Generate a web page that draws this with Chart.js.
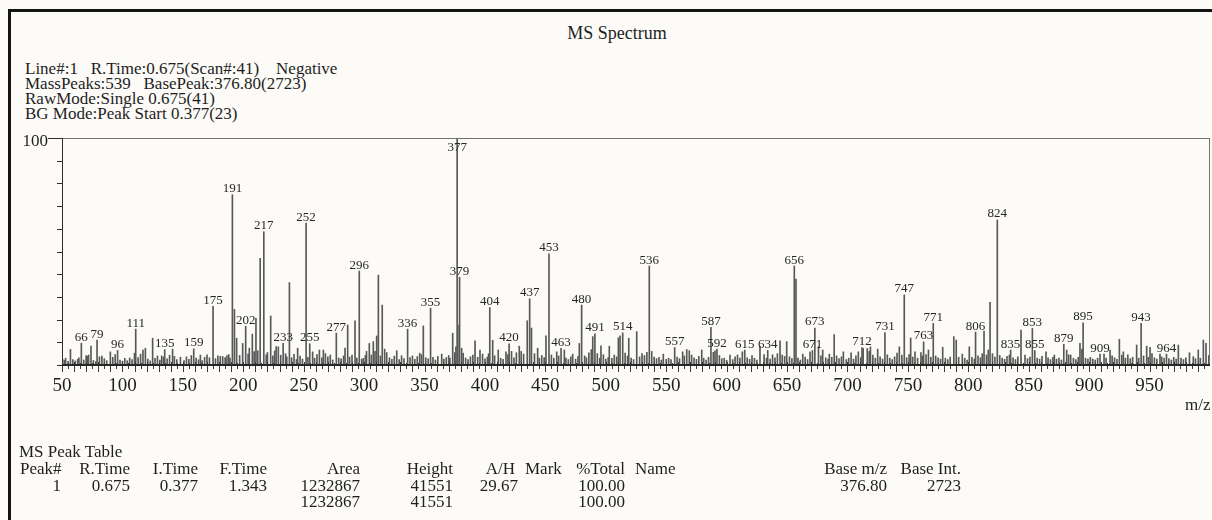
<!DOCTYPE html>
<html>
<head>
<meta charset="utf-8">
<title>MS Spectrum</title>
<script src="https://cdn.jsdelivr.net/npm/chart.js@4.4.1/dist/chart.umd.min.js"></script>
<style>
  html, body { margin: 0; padding: 0; background: #fcfbf8; }
  #page { position: relative; width: 1212px; height: 520px; overflow: hidden; background: #fcfbf8;
          font-family: 'Liberation Serif', 'DejaVu Serif', serif; color: #1e1e1e; }
  #frame { position: absolute; left: 8px; top: 9px; width: 1400px; height: 700px;
           border-left: 3px solid #141414; border-top: 3px solid #141414; }
  #spec { position: absolute; left: 0; top: 0; }
  .txt { position: absolute; white-space: pre; font-size: 17px; line-height: 17px; }
  #title { position: absolute; left: 0; width: 1234px; top: 23px; text-align: center; font-size: 18px; line-height: 20px; }
  #info { position: absolute; left: 25px; top: 61px; white-space: pre; font-size: 17px; line-height: 15.1px; }
</style>
</head>
<body>
<div id="page">
  <div id="frame"></div>
  <div id="title">MS Spectrum</div>
  <div id="info">Line#:1   R.Time:0.675(Scan#:41)    Negative
MassPeaks:539   BasePeak:376.80(2723)
RawMode:Single 0.675(41)
BG Mode:Peak Start 0.377(23)</div>
  <canvas id="spec" width="1212" height="520"></canvas>

  <div class="txt" style="left:19px; top:443px;">MS Peak Table</div>
  <div class="txt" style="left:20px; top:460px;">Peak#</div>
  <div class="txt" style="right:1082px; top:460px;">R.Time</div>
  <div class="txt" style="right:1014px; top:460px;">I.Time</div>
  <div class="txt" style="right:945px; top:460px;">F.Time</div>
  <div class="txt" style="right:852px; top:460px;">Area</div>
  <div class="txt" style="right:759px; top:460px;">Height</div>
  <div class="txt" style="right:697px; top:460px;">A/H</div>
  <div class="txt" style="left:525px; top:460px;">Mark</div>
  <div class="txt" style="right:587px; top:460px;">%Total</div>
  <div class="txt" style="left:635px; top:460px;">Name</div>
  <div class="txt" style="right:325px; top:460px;">Base m/z</div>
  <div class="txt" style="right:251px; top:460px;">Base Int.</div>

  <div class="txt" style="right:1151px; top:477px;">1</div>
  <div class="txt" style="right:1082px; top:477px;">0.675</div>
  <div class="txt" style="right:1014px; top:477px;">0.377</div>
  <div class="txt" style="right:945px; top:477px;">1.343</div>
  <div class="txt" style="right:852px; top:477px;">1232867</div>
  <div class="txt" style="right:759px; top:477px;">41551</div>
  <div class="txt" style="right:694px; top:477px;">29.67</div>
  <div class="txt" style="right:587px; top:477px;">100.00</div>
  <div class="txt" style="right:325px; top:477px;">376.80</div>
  <div class="txt" style="right:251px; top:477px;">2723</div>

  <div class="txt" style="right:852px; top:493px;">1232867</div>
  <div class="txt" style="right:759px; top:493px;">41551</div>
  <div class="txt" style="right:587px; top:493px;">100.00</div>
</div>

<script>
// labelled peaks: m/z and relative intensity (%)
const LABEL_MZ = [66, 79, 96, 111, 135, 159, 175, 191, 202, 217,
                  233, 252, 255, 277, 296, 336, 355, 377, 379, 404,
                  420, 437, 453, 463, 480, 491, 514, 536, 557, 587,
                  592, 615, 634, 656, 671, 673, 712, 731, 747, 763,
                  771, 806, 824, 835, 853, 855, 879, 895, 909, 943, 964];
const LABEL_INT = [9.6, 11.0, 6.4, 15.8, 6.8, 7.1, 25.8, 75.0, 17.1, 58.7,
                   9.6, 62.5, 9.4, 14.0, 41.4, 15.8, 25.0, 100, 38.6, 25.3,
                   9.3, 29.2, 49.0, 7.3, 26.4, 13.7, 14.2, 43.6, 7.7, 16.6,
                   7.0, 6.6, 6.4, 43.6, 6.4, 16.3, 7.7, 14.3, 30.9, 10.2,
                   18.3, 14.5, 63.9, 6.6, 16.1, 6.4, 9.1, 18.6, 4.8, 18.4, 4.8];

// unlabelled peaks [m/z, %]
const LOW_PEAKS = [
  [50.5,2.5],[52,2.1],[53,3.0],[55,1.6],[57,6.9],[59,2.4],[61,1.8],[63,2.5],[64,3.2],[68,2.2],
  [70,4.1],[71,3.8],[72,4.4],[74,8.3],[76,2.0],[78,1.5],[81,3.6],[83,3.9],[85,2.8],[87,1.9],
  [90,5.8],[92,3.4],[94,4.6],[98,2.2],[100,1.7],[102,2.9],[104,1.9],[106,3.1],[108,2.4],[110,5.2],
  [113,3.3],[115,4.8],[117,6.6],[119,7.4],[121,2.6],[123,1.8],[125,11.8],[127,2.9],[129,4.0],[131,2.2],
  [132.5,4.0],[134,3.5],[137,2.7],[139,4.3],[141.5,7.0],[143,3.8],[145,2.4],[148,3.4],[151,2.0],[153,3.6],
  [155,2.5],[157,4.2],[161,3.0],[163,2.3],[164.5,4.4],[166,1.9],[168,3.4],[170,4.5],[172,3.2],[177,2.8],
  [179,4.0],[181,3.8],[183,3.7],[185,3.3],[186.5,4.2],[188,4.6],[189,3.0],[192.7,24.5],[194.5,11.8],[197,4.2],
  [199.5,9.5],[204,4.8],[205,7.4],[207.5,13.6],[209,5.9],[210.5,20.6],[212,6.3],[214,47.0],[219,4.5],[220,5.5],
  [222.7,21.6],[224.5,4.0],[226,6.2],[227.2,8.1],[229,8.0],[231,4.3],[235,5.0],[236,3.6],[238.2,36.3],[240,3.2],
  [242,4.7],[244,2.4],[245,7.4],[247,3.9],[249,2.6],[253.5,3.4],[257.4,5.8],[259,3.0],[261,4.6],[263,6.6],
  [265,3.2],[266.3,6.6],[268,5.0],[270,3.6],[272,4.4],[274,2.2],[279,3.1],[281,2.7],[283,4.0],[284.2,7.4],
  [286.4,17.6],[288,3.5],[290,4.4],[292.5,19.5],[294,3.1],[298,2.6],[299.3,2.9],[301,4.2],[302,6.0],[304.3,9.5],
  [306,4.4],[307.6,10.3],[309,6.0],[310.4,12.8],[311.8,39.6],[313.5,4.0],[315,26.4],[317,7.0],[318.7,5.5],[321,3.2],
  [323,2.5],[325,3.9],[327,6.3],[329,2.4],[331,4.1],[333,2.8],[338,3.3],[340,4.0],[342,2.5],[344,3.7],
  [346,5.2],[347.5,4.6],[349,17.2]
];
const MID_PEAKS = [
  [351,3.2],[353,2.7],[357,3.4],[359,2.2],[361,3.8],[364.2,4.8],[366,2.6],[368,3.3],[370,4.2],[371,3.0],
  [373.3,14.0],[375,5.5],[376,8.0],[378.6,17.6],[380.7,7.4],[382,5.2],[384,3.1],[386,2.4],[388,3.6],[390,4.4],
  [391.8,10.7],[394,3.4],[395.9,6.6],[398,4.8],[400,2.7],[402,3.5],[403,5.0],[406.4,10.9],[408,4.1],[411,6.6],
  [413,3.0],[415,2.5],[417.4,5.8],[419,4.6],[422,6.0],[424,3.2],[426,5.4],[428.4,8.3],[430,6.0],[432,4.8],
  [435,19.5],[438.5,16.3],[441,5.0],[443.6,7.4],[445,3.0],[447,4.2],[449,3.3],[450.5,12.8],[455,4.4],[457,3.0],
  [459.4,5.8],[461,4.0],[465.7,6.6],[467,3.1],[469,2.4],[471,3.6],[472.6,4.8],[475,2.6],[477,3.8],[478.1,9.5],
  [482.5,4.0],[484,3.2],[486,5.4],[488,6.8],[489.2,12.5],[493,5.0],[495,3.0],[496,8.4],[498,4.5],[500,2.6],
  [502,3.3],[502.9,8.3],[505,2.9],[507,4.4],[509,3.6],[510.4,12.0],[511.8,12.8],[516,5.2],[518,4.0],[519,11.8],
  [521,3.0],[523,2.4],[525.6,14.7],[528,3.6],[530,5.0],[532,4.2],[534,5.6],[538,6.0],[540,3.5],[542,2.8],
  [544,3.4],[546,2.2],[547.6,4.8],[550,2.5],[552,3.0],[554,2.4],[559,3.5],[561,2.8],[563.6,5.8],[565,4.0],
  [567,6.8],[569.1,6.3],[571,4.4],[573,3.2],[575,2.5],[577,3.8],[579.4,6.6],[581,3.0],[583,2.2],[585,3.4],
  [589,5.6],[590.4,6.2],[594,4.2],[596,2.8],[598,3.0],[600,2.1],[602.8,4.4],[605,2.4],[607,3.6],[609,4.4],
  [611,3.0],[613,5.8],[617,3.2],[619,2.5],[621,4.1],[623,3.0],[625,2.2],[627.6,8.3],[631,4.6],[633,3.0],
  [636,2.6],[638,4.5],[640,3.2],[642,5.0],[644.2,10.7],[646,4.4],[648,3.8],[649.7,10.3]
];
const HIGH_PEAKS = [
  [652,3.6],[654,2.8],[657.4,37.8],[659,3.0],[661,2.2],[663,4.8],[665,3.5],[667,2.4],[669,5.8],[676,8.0],
  [678,4.0],[679.5,6.6],[682,3.2],[684,2.6],[685,4.8],[687,3.4],[689,13.4],[691,4.0],[693,2.8],[695,3.6],
  [696.6,5.8],[699,2.4],[701,3.0],[703,5.4],[705,2.6],[707,4.0],[709,5.8],[711,3.2],[713,7.3],[716.4,7.3],
  [718,6.0],[719,8.0],[721,4.4],[723,3.0],[725,7.0],[727,3.6],[729,2.6],[733,4.5],[735,3.0],[737,2.4],
  [739,3.6],[741,5.2],[742.9,8.0],[745,4.4],[749,3.2],[751,4.6],[752.3,11.9],[754,3.5],[755.9,5.8],[758,3.0],
  [760.8,5.5],[762,4.0],[765,4.6],[767,6.6],[769,3.4],[773,4.0],[775,3.2],[777,2.6],[778.8,7.8],[781,3.0],
  [783,2.4],[785,3.5],[788,12.5],[790,11.0],[792,3.4],[795,4.8],[797,3.0],[799,2.2],[800.8,8.0],[803,3.4],
  [805,2.6],[808,4.0],[810,3.2],[811.5,5.0],[813,14.9],[815,4.4],[816.5,6.6],[818,27.6],[820,5.0],[822,3.5],
  [826,4.2],[828,3.0],[830,2.5],[832,3.8],[834,4.4],[837,3.2],[839,2.4],[841,3.6],[843.6,15.4],[846.9,4.4],
  [849,2.8],[851,3.5],[857,3.0],[859,2.6],[861,3.8],[864.3,5.8],[866,3.2],[868,2.4],[870,3.4],[871.2,4.4],
  [873,2.6],[875,3.0],[877,2.2],[881.4,6.6],[883,4.5],[884.7,4.4],[887,3.0],[889,2.4],[891,3.4],[892.4,9.5],
  [894,7.0],[897,3.0],[899,2.6],[901,3.4],[903,2.6],[905,2.2],[907,3.0],[912.3,4.8],[914,3.0],[917.3,6.6],
  [919,4.0],[921,3.2],[923,2.5],[925,11.3],[927,4.4],[928.3,5.8],[930,3.0],[932,4.5],[934,2.8],[936,3.4],
  [939.3,8.8],[941,3.0],[945,4.0],[947.6,8.3],[949,3.4],[950.4,7.8],[952,5.0],[954,3.2],[956,2.6],[958.6,4.8],
  [960,3.6],[962,3.0],[966,2.8],[968,2.2],[970,3.4],[972,2.6],[973.8,8.8],[976,3.0],[978,2.4],[980,3.2],
  [983,5.4],[986.2,3.7],[988,2.8],[990.3,6.6],[992,3.0],[994.5,11.0],[996.7,9.5],[999,4.2]
];

const X_LABELS = [50, 100, 150, 200, 250, 300, 350, 400, 450, 500, 550, 600, 650, 700, 750, 800, 850, 900, 950];
const Y_TICKS = [0, 10, 20, 30, 40, 50, 60, 70, 80, 90, 100];
const X_MIN = 50, X_MAX = 1000;

const FONT = "'Liberation Serif', 'DejaVu Serif', serif";

// axes, frame, tick labels and peak labels
const spectrumDecor = {
    id: 'spectrumDecor',
    afterDatasetsDraw(chart) {
        const { ctx, chartArea: area } = chart;
        const xs = chart.scales.x, ys = chart.scales.y;
        const base = Math.round(ys.getPixelForValue(0));
        ctx.save();

        // top + right frame
        ctx.strokeStyle = '#727272';
        ctx.lineWidth = 1;
        ctx.beginPath();
        ctx.moveTo(area.left, area.top + 0.5);
        ctx.lineTo(area.right, area.top + 0.5);
        ctx.moveTo(area.right - 0.5, area.top);
        ctx.lineTo(area.right - 0.5, base);
        ctx.stroke();

        // left axis
        ctx.strokeStyle = '#2e2e2e';
        ctx.beginPath();
        ctx.moveTo(area.left + 0.5, area.top);
        ctx.lineTo(area.left + 0.5, base);
        Y_TICKS.forEach(v => {
            let py = Math.round(ys.getPixelForValue(v)) + 0.5;
            ctx.moveTo(v === 100 ? area.left - 14 : area.left - 5, py);
            ctx.lineTo(area.left, py);
        });
        ctx.stroke();

        // m/z ticks along baseline
        ctx.strokeStyle = '#3a3a3a';
        ctx.beginPath();
        for (let m = X_MIN; m < X_MAX; m += 5) {
            let px = Math.round(xs.getPixelForValue(m)) + 0.5;
            let big = m % 10 === 0;
            ctx.moveTo(px, base - (big ? 3 : 2));
            ctx.lineTo(px, base + (big ? 7 : 4));
        }
        ctx.stroke();

        // baseline
        ctx.strokeStyle = '#262626';
        ctx.lineWidth = 2;
        ctx.beginPath();
        ctx.moveTo(area.left, base);
        ctx.lineTo(area.right, base);
        ctx.stroke();

        ctx.fillStyle = '#1e1e1e';
        ctx.textBaseline = 'alphabetic';

        // "100" on the y axis
        ctx.font = `17px ${FONT}`;
        ctx.textAlign = 'right';
        ctx.fillText('100', area.left - 14, 146);

        // x tick labels
        ctx.font = `19px ${FONT}`;
        ctx.textAlign = 'center';
        X_LABELS.forEach(v => ctx.fillText(String(v), xs.getPixelForValue(v), 391));

        // axis title
        ctx.font = `17px ${FONT}`;
        ctx.textAlign = 'left';
        ctx.fillText('m/z', 1185, 410);

        // peak labels
        ctx.font = `13px ${FONT}`;
        ctx.textAlign = 'center';
        ctx.fillStyle = '#262626';
        LABEL_MZ.forEach((m, i) => {
            let px = xs.getPixelForValue(m);
            let top = ys.getPixelForValue(LABEL_INT[i]);
            let by = Math.max(top - 2.5, area.top + 12.5);
            ctx.fillText(String(m), px, by);
        });

        ctx.restore();
    }
};

function toPoints(list) {
    return list.map(p => ({ x: p[0], y: p[1] }));
}

const barStyle = { backgroundColor: '#585858', barThickness: 1, grouped: false, borderWidth: 0 };

const chart = new Chart(document.getElementById('spec').getContext('2d'), {
    type: 'bar',
    data: {
        datasets: [
            { ...barStyle, data: LABEL_MZ.map((m, i) => ({ x: m, y: LABEL_INT[i] })) },
            { ...barStyle, data: toPoints(LOW_PEAKS) },
            { ...barStyle, data: toPoints(MID_PEAKS) },
            { ...barStyle, data: toPoints(HIGH_PEAKS) }
        ]
    },
    options: {
        responsive: false,
        animation: false,
        devicePixelRatio: 1,
        layout: { padding: { left: 62, top: 138, right: 2, bottom: 155 } },
        scales: {
            x: { type: 'linear', min: X_MIN, max: X_MAX, offset: false, display: false },
            y: { min: 0, max: 100, display: false }
        },
        plugins: { legend: { display: false }, tooltip: { enabled: false } }
    },
    plugins: [spectrumDecor]
});
</script>
</body>
</html>
